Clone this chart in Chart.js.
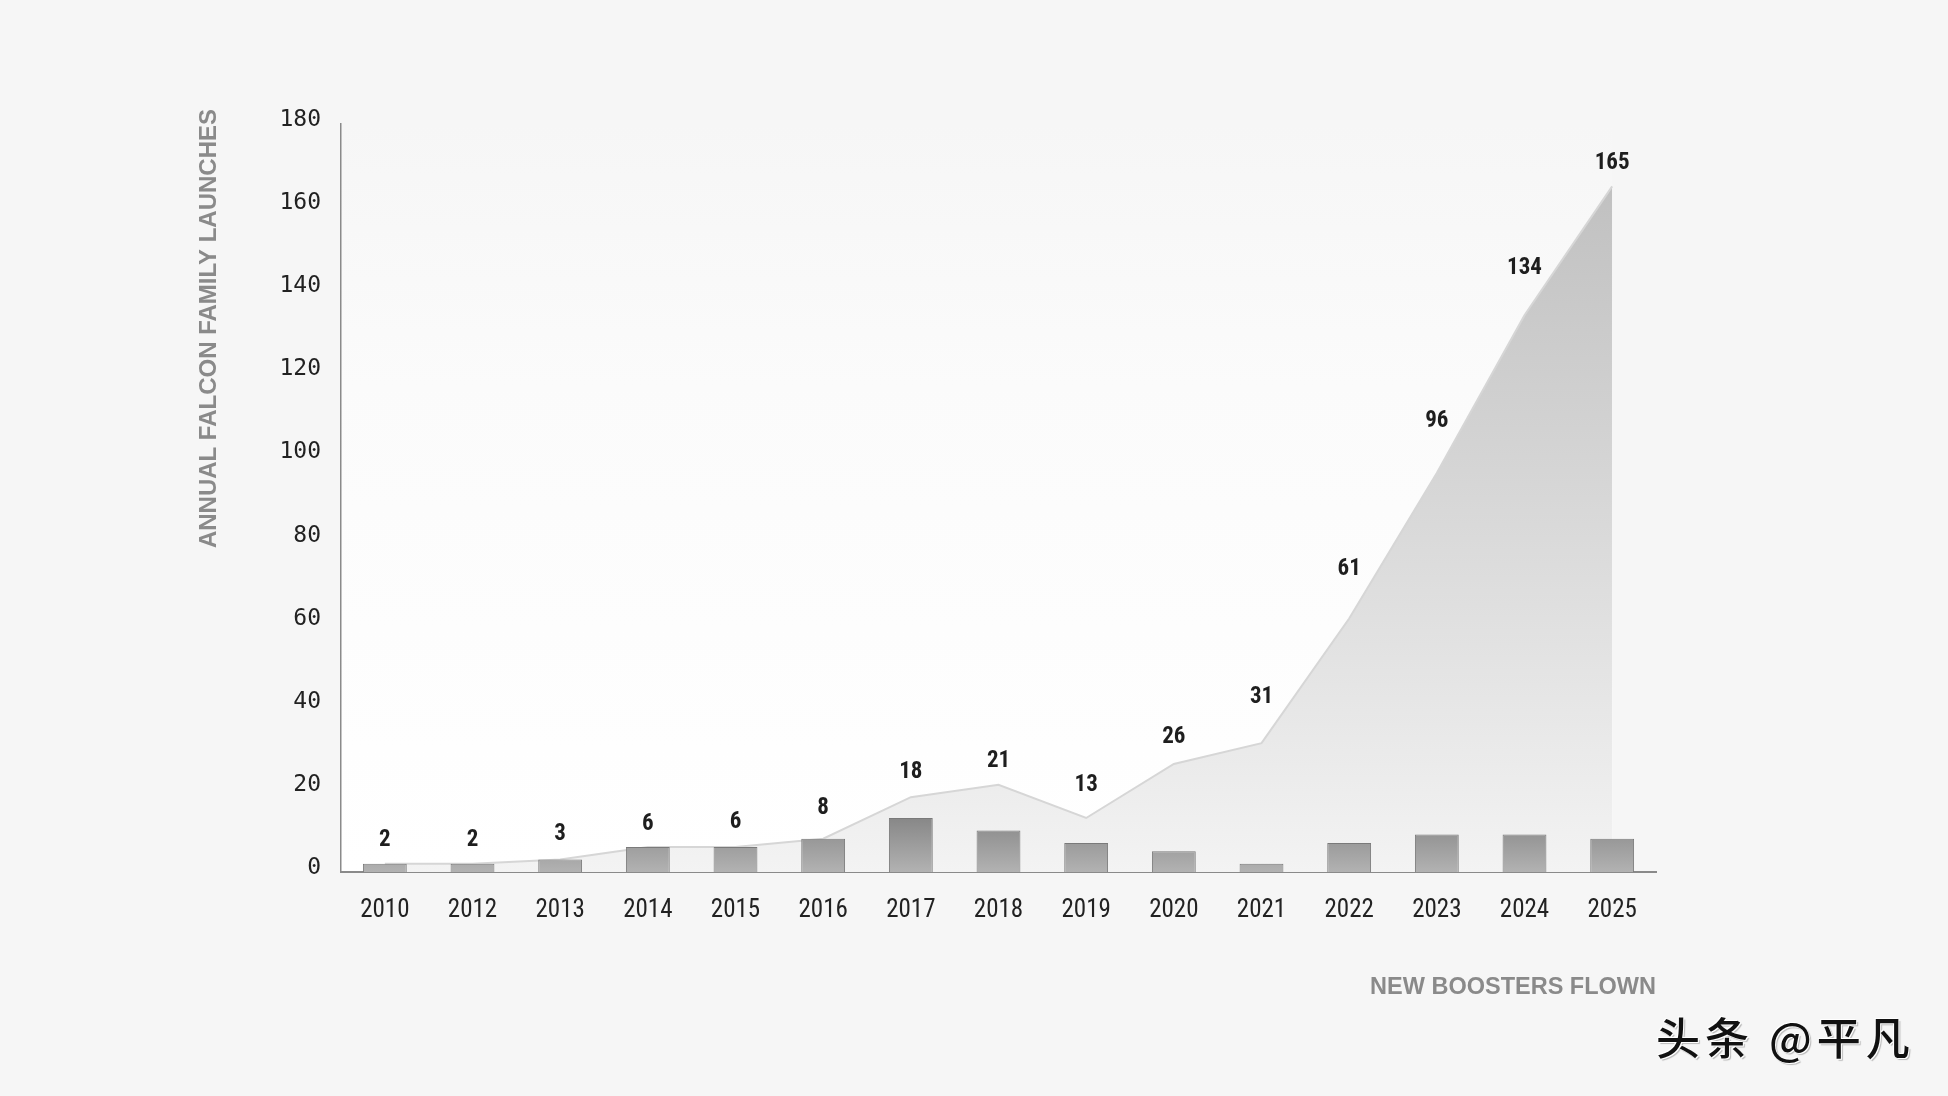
<!DOCTYPE html>
<html>
<head>
<meta charset="utf-8">
<script src="https://cdn.jsdelivr.net/npm/chart.js@4.4.1/dist/chart.umd.min.js"></script>
<style>
    html, body { margin: 0; padding: 0; background: #f6f6f6; }
    #wrap { position: relative; width: 1948px; height: 1096px; }
    #mark {
        position: absolute; left: 1656px; top: 1014px;
        font-family: "Noto Sans CJK SC"; font-size: 44px; line-height: 44px;
        color: #111; font-weight: 500; letter-spacing: 5px;
        text-shadow: -1px -1px 0 #fff, 1px 1px 0 #fff, 2px 2px 1px rgba(0,0,0,0.25);
    }
</style>
</head>
<body>
<div id="wrap">
    <canvas id="chart" width="1948" height="1096"></canvas>
    <div id="mark">头条 @平凡</div>
</div>
<script>
// data
const years = ['2010', '2012', '2013', '2014', '2015', '2016', '2017', '2018',
               '2019', '2020', '2021', '2022', '2023', '2024', '2025'];
const launches = [2, 2, 3, 6, 6, 8, 18, 21, 13, 26, 31, 61, 96, 134, 165];
const newBoosters = [2, 2, 3, 6, 6, 8, 13, 10, 7, 5, 2, 7, 9, 9, 8];
const yMax = 180;
const yStep = 20;
const yTitle = 'ANNUAL FALCON FAMILY LAUNCHES';

const narrow = '"Roboto Condensed", "DejaVu Sans Condensed", sans-serif';
const titleFont = 'bold 24px "Liberation Sans", sans-serif';

function areaFill(context) {
    const area = context.chart.chartArea;
    if (!area) return '#e0e0e0';
    const g = context.chart.ctx.createLinearGradient(0, area.top, 0, area.bottom);
    g.addColorStop(0, '#bcbcbc');
    g.addColorStop(0.5, '#d7d7d7');
    g.addColorStop(1, '#f3f3f3');
    return g;
}

function barFill(context) {
    const chart = context.chart;
    if (!chart.chartArea) return '#999';
    const y = chart.scales.y;
    const g = chart.ctx.createLinearGradient(0, y.getPixelForValue(14), 0, y.getPixelForValue(0));
    g.addColorStop(0, '#848484');
    g.addColorStop(1, '#b2b2b2');
    return g;
}

const background = {
    id: 'background',
    beforeDraw(chart) {
        const {ctx, chartArea} = chart;
        const lastX = chart.scales.x.getPixelForValue(years.length - 1);
        ctx.save();
        ctx.fillStyle = '#f6f6f6';
        ctx.fillRect(0, 0, chart.width, chart.height);
        const g = ctx.createLinearGradient(0, chartArea.top, 0, chartArea.bottom);
        g.addColorStop(0, '#f6f6f6');
        g.addColorStop(0.35, '#fbfbfb');
        g.addColorStop(1, '#ffffff');
        ctx.fillStyle = g;
        ctx.fillRect(chartArea.left, chartArea.top, lastX - chartArea.left, chartArea.bottom - chartArea.top);
        ctx.restore();
    },
    afterDraw(chart) {
        // y title sits near the top of the axis, not centred on it
        const ctx = chart.ctx;
        ctx.save();
        ctx.translate(209, 109);
        ctx.rotate(-Math.PI / 2);
        ctx.font = titleFont;
        ctx.fillStyle = '#8a8a8a';
        ctx.textAlign = 'right';
        ctx.textBaseline = 'middle';
        ctx.fillText(yTitle, 0, 0);
        ctx.restore();
    }
};

// numbers above the launch line, lifted where the line climbs steeply
const valueLabels = {
    id: 'valueLabels',
    afterDatasetsDraw(chart) {
        const meta = chart.getDatasetMeta(1);
        const ctx = chart.ctx;
        ctx.save();
        ctx.font = 'bold 23px ' + narrow;
        ctx.fillStyle = '#1e1e1e';
        ctx.textAlign = 'center';
        ctx.textBaseline = 'middle';
        meta.data.forEach((pt, i) => {
            let y = pt.y;
            const next = meta.data[i + 1];
            if (next) {
                const slope = (next.y - pt.y) / (next.x - pt.x);
                y = Math.min(y, pt.y + slope * 16);
            }
            ctx.fillText(launches[i], pt.x, y - 23);
        });
        ctx.restore();
    }
};

new Chart(document.getElementById('chart'), {
    type: 'bar',
    data: {
        labels: years,
        datasets: [
            {
                type: 'bar',
                label: 'New boosters flown',
                data: newBoosters,
                order: 0,
                backgroundColor: barFill,
                borderColor: '#7a7a7a',
                borderWidth: 1,
                barPercentage: 0.5,
                categoryPercentage: 1
            },
            {
                type: 'line',
                label: 'Annual Falcon family launches',
                data: launches,
                order: 1,
                fill: 'origin',
                backgroundColor: areaFill,
                borderColor: '#d6d6d6',
                borderWidth: 2,
                pointRadius: 0,
                tension: 0
            }
        ]
    },
    options: {
        responsive: false,
        animation: false,
        layout: {padding: {left: 196, right: 292, top: 124, bottom: 0}},
        plugins: {
            legend: {display: false},
            tooltip: {enabled: false}
        },
        scales: {
            x: {
                grid: {display: false, drawTicks: false},
                border: {display: true, color: '#8a8a8a', width: 2},
                ticks: {color: '#222', padding: 24, font: {family: narrow, size: 25}},
                title: {
                    display: true,
                    text: 'NEW BOOSTERS FLOWN',
                    align: 'end',
                    color: '#8a8a8a',
                    font: {family: '"Liberation Sans", sans-serif', size: 23.5, weight: 'bold'},
                    padding: {top: 0, bottom: 94}
                },
                afterFit: function (scale) { scale.height = 224; }
            },
            y: {
                min: 0,
                max: yMax,
                grid: {display: false, drawTicks: false},
                border: {display: true, color: '#8a8a8a', width: 1.5},
                ticks: {stepSize: yStep, color: '#222', padding: 20, labelOffset: -4,
                        font: {family: '"DejaVu Sans Mono", monospace', size: 23}},
                afterFit: function (scale) { scale.width = 145; }
            }
        }
    },
    plugins: [background, valueLabels]
});
</script>
</body>
</html>
